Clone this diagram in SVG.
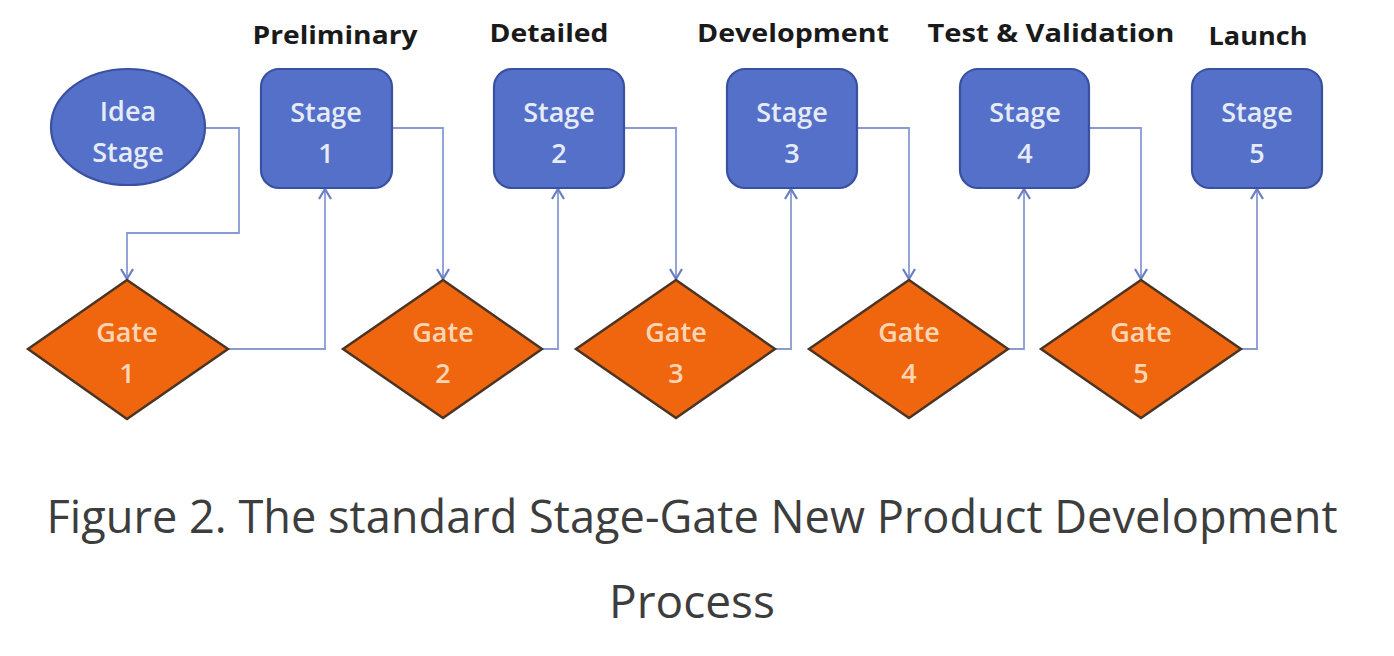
<svg xmlns="http://www.w3.org/2000/svg" width="1394" height="656" viewBox="0 0 1394 656">
<defs>
<marker id="arr" viewBox="0 0 12 14" refX="11" refY="7" markerWidth="12" markerHeight="14" markerUnits="userSpaceOnUse" orient="auto">
<path d="M1,1 L11,7 L1,13" fill="none" stroke="#6a7ec6" stroke-width="2.2"/>
</marker>
<style>
.stage{fill:#5570c8;stroke:#3a50a0;stroke-width:2.2}
.gate{fill:#f0660f;stroke:#4a3424;stroke-width:2.5}
.st{font-family:"Open Sans","Liberation Sans",sans-serif;font-size:27px;font-weight:600;fill:#e6ebf8;text-anchor:middle}
.gt{font-family:"Open Sans","Liberation Sans",sans-serif;font-size:27px;font-weight:600;fill:#fcd6b4;text-anchor:middle}
.lbl{font-family:"Open Sans","Liberation Sans",sans-serif;font-size:25px;font-weight:bold;fill:#1a1a1a;text-anchor:middle}
.cap{font-family:"Open Sans","Liberation Sans",sans-serif;font-size:46px;fill:#3d3d3d;text-anchor:middle}
.conn{fill:none;stroke:#8a9bd2;stroke-width:1.8;marker-end:url(#arr)}
</style>
</defs>
<rect width="1394" height="656" fill="#ffffff"/>
<g id="connectors">
<path class="conn" d="M205,128 H239 V233 H127 V279"/>
<path class="conn" d="M228,349 H325 V189"/>
<path class="conn" d="M392,128 H443 V279"/>
<path class="conn" d="M542,349 H558 V189"/>
<path class="conn" d="M624,128 H676 V279"/>
<path class="conn" d="M775,349 H791 V189"/>
<path class="conn" d="M857,128 H909 V279"/>
<path class="conn" d="M1008,349 H1024 V189"/>
<path class="conn" d="M1089,128 H1141 V279"/>
<path class="conn" d="M1241,349 H1257 V189"/>
</g>
<g id="idea">
<ellipse class="stage" cx="128" cy="127" rx="77" ry="58"/>
<text class="st" x="128" y="121">Idea</text>
<text class="st" x="128" y="162">Stage</text>
</g>
<g id="stage1">
<rect class="stage" x="261" y="69" width="131" height="119" rx="18"/>
<text class="st" x="326" y="122">Stage</text>
<text class="st" x="326" y="163">1</text>
</g>
<g id="stage2">
<rect class="stage" x="494" y="69" width="130" height="119" rx="18"/>
<text class="st" x="559" y="122">Stage</text>
<text class="st" x="559" y="163">2</text>
</g>
<g id="stage3">
<rect class="stage" x="727" y="69" width="130" height="119" rx="18"/>
<text class="st" x="792" y="122">Stage</text>
<text class="st" x="792" y="163">3</text>
</g>
<g id="stage4">
<rect class="stage" x="960" y="69" width="129" height="119" rx="18"/>
<text class="st" x="1025" y="122">Stage</text>
<text class="st" x="1025" y="163">4</text>
</g>
<g id="stage5">
<rect class="stage" x="1192" y="69" width="130" height="119" rx="18"/>
<text class="st" x="1257" y="122">Stage</text>
<text class="st" x="1257" y="163">5</text>
</g>
<g id="gate1">
<polygon class="gate" points="127,280 228,349 127,419 28,349"/>
<text class="gt" x="127" y="342">Gate</text>
<text class="gt" x="127" y="383">1</text>
</g>
<g id="gate2">
<polygon class="gate" points="443,280 542,349 443,418 343,349"/>
<text class="gt" x="443" y="342">Gate</text>
<text class="gt" x="443" y="383">2</text>
</g>
<g id="gate3">
<polygon class="gate" points="676,280 775,349 676,418 576,349"/>
<text class="gt" x="676" y="342">Gate</text>
<text class="gt" x="676" y="383">3</text>
</g>
<g id="gate4">
<polygon class="gate" points="909,280 1008,349 909,418 809,349"/>
<text class="gt" x="909" y="342">Gate</text>
<text class="gt" x="909" y="383">4</text>
</g>
<g id="gate5">
<polygon class="gate" points="1141,280 1241,349 1141,418 1041,349"/>
<text class="gt" x="1141" y="342">Gate</text>
<text class="gt" x="1141" y="383">5</text>
</g>
<g id="labels">
<text class="lbl" x="335" y="44" textLength="165" lengthAdjust="spacingAndGlyphs">Preliminary</text>
<text class="lbl" x="549" y="42" textLength="119" lengthAdjust="spacingAndGlyphs">Detailed</text>
<text class="lbl" x="793" y="42" textLength="192" lengthAdjust="spacingAndGlyphs">Development</text>
<text class="lbl" x="1051" y="42" textLength="247" lengthAdjust="spacingAndGlyphs">Test &amp; Validation</text>
<text class="lbl" x="1258" y="45" textLength="99" lengthAdjust="spacingAndGlyphs">Launch</text>
</g>
<g id="caption">
<text class="cap" x="692" y="533" textLength="1291" lengthAdjust="spacingAndGlyphs">Figure 2. The standard Stage-Gate New Product Development</text>
<text class="cap" x="692" y="618">Process</text>
</g>
</svg>
